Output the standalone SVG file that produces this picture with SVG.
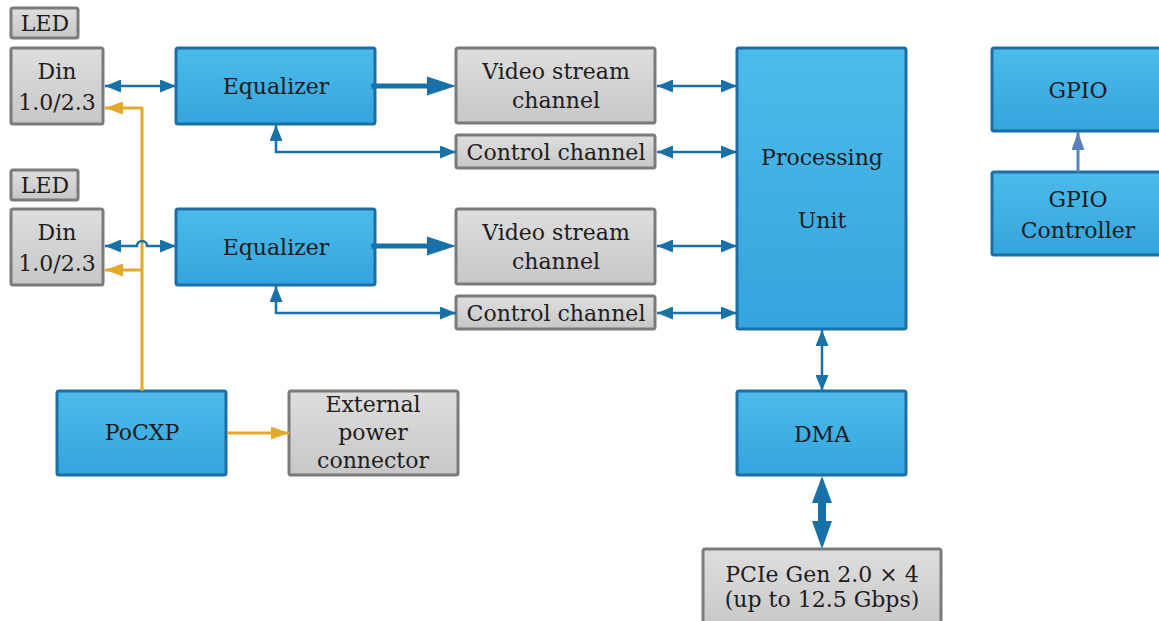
<svg xmlns="http://www.w3.org/2000/svg" width="1159" height="621" viewBox="0 0 1159 621">
<defs>
<linearGradient id="gb" x1="0" y1="0" x2="0" y2="1"><stop offset="0" stop-color="#4dbbea"/><stop offset="1" stop-color="#34a4dd"/></linearGradient>
<linearGradient id="gg" x1="0" y1="0" x2="0" y2="1"><stop offset="0" stop-color="#dedede"/><stop offset="1" stop-color="#c7c7c7"/></linearGradient>
<marker id="ab" markerUnits="userSpaceOnUse" markerWidth="16" markerHeight="13" refX="16" refY="6.5" orient="auto-start-reverse"><path d="M0,0 L16,6.5 L0,13 z" fill="#1872a8"/></marker>
<marker id="ao" markerUnits="userSpaceOnUse" markerWidth="18" markerHeight="13" refX="18" refY="6.5" orient="auto-start-reverse"><path d="M0,0 L18,6.5 L0,13 z" fill="#e3a92a"/></marker>
<marker id="ag" markerUnits="userSpaceOnUse" markerWidth="18" markerHeight="13" refX="18" refY="6.5" orient="auto-start-reverse"><path d="M0,0 L18,6.5 L0,13 z" fill="#5b82b8"/></marker>
</defs>
<style>
.bl{fill:url(#gb);stroke:#1b6fa6;stroke-width:3}
.gr{fill:url(#gg);stroke:#7b7b7b;stroke-width:3}
text{font-family:'DejaVu Serif',serif;fill:#1e1c1d;text-anchor:middle;font-size:22px}
.cb{fill:none;stroke:#1872a8;stroke-width:2.5}
.co{fill:none;stroke:#e3a92a;stroke-width:3}
</style>
<g id="led1"><rect class="gr" x="11" y="8" width="67" height="30" rx="2"/><text x="45" y="31" font-size="20">LED</text></g>
<g id="din1"><rect class="gr" x="11" y="48" width="92" height="76" rx="2"/><text x="57" y="79">Din</text><text x="57" y="110" font-size="21">1.0/2.3</text></g>
<g id="led2"><rect class="gr" x="11" y="170" width="67" height="30" rx="2"/><text x="45" y="193" font-size="20">LED</text></g>
<g id="din2"><rect class="gr" x="11" y="209" width="92" height="76" rx="2"/><text x="57" y="240">Din</text><text x="57" y="271" font-size="21">1.0/2.3</text></g>
<g id="eq1"><rect class="bl" x="176" y="48" width="199" height="76" rx="2"/><text x="276" y="94" font-size="23">Equalizer</text></g>
<g id="eq2"><rect class="bl" x="176" y="209" width="199" height="76" rx="2"/><text x="276" y="255" font-size="23">Equalizer</text></g>
<g id="vid1"><rect class="gr" x="456" y="48" width="199" height="75" rx="2"/><text x="556" y="79">Video stream</text><text x="556" y="108">channel</text></g>
<g id="ctl1"><rect class="gr" x="456" y="135" width="199" height="33" rx="2"/><text x="556" y="160">Control  channel</text></g>
<g id="vid2"><rect class="gr" x="456" y="209" width="199" height="75" rx="2"/><text x="556" y="240">Video stream</text><text x="556" y="269">channel</text></g>
<g id="ctl2"><rect class="gr" x="456" y="296" width="199" height="33" rx="2"/><text x="556" y="321">Control  channel</text></g>
<g id="pu"><rect class="bl" x="737" y="48" width="169" height="281" rx="2"/><text x="822" y="165">Processing</text><text x="822" y="228">Unit</text></g>
<g id="dma"><rect class="bl" x="737" y="391" width="169" height="84" rx="2"/><text x="822" y="442" font-size="24">DMA</text></g>
<g id="pcie"><rect class="gr" x="703" y="549" width="238" height="80" rx="2"/><text x="822" y="582" font-size="19">PCIe Gen 2.0 × 4</text><text x="822" y="607" font-size="19">(up to 12.5 Gbps)</text></g>
<g id="gpio"><rect class="bl" x="992" y="48" width="180" height="83" rx="2"/><text x="1078" y="98" font-size="23">GPIO</text></g>
<g id="gpioc"><rect class="bl" x="992" y="172" width="180" height="83" rx="2"/><text x="1078" y="207" font-size="23">GPIO</text><text x="1078" y="238" font-size="23">Controller</text></g>
<g id="pocxp"><rect class="bl" x="57" y="391" width="169" height="84" rx="2"/><text x="142" y="440" font-size="17">PoCXP</text></g>
<g id="ext"><rect class="gr" x="289" y="391" width="169" height="84" rx="2"/><text x="373" y="412" font-size="20">External</text><text x="373" y="440" font-size="20">power</text><text x="373" y="468" font-size="20">connector</text></g>
<g id="connectors">
<path class="co" d="M142,391 V108 H105" marker-end="url(#ao)"/>
<path class="co" d="M142,270 H105" marker-end="url(#ao)"/>
<path class="co" d="M227,433 H289" marker-end="url(#ao)"/>
<path class="cb" d="M105,86 H176" marker-start="url(#ab)" marker-end="url(#ab)"/>
<path class="cb" d="M105,246 H137 A5,5 0 0 1 147,246 H176" marker-start="url(#ab)" marker-end="url(#ab)"/>
<path class="cb" d="M276,125 V152 H456" marker-start="url(#ab)" marker-end="url(#ab)"/>
<path class="cb" d="M276,286 V313 H456" marker-start="url(#ab)" marker-end="url(#ab)"/>
<path class="cb" d="M657,86 H737" marker-start="url(#ab)" marker-end="url(#ab)"/>
<path class="cb" d="M657,152 H737" marker-start="url(#ab)" marker-end="url(#ab)"/>
<path class="cb" d="M657,246 H737" marker-start="url(#ab)" marker-end="url(#ab)"/>
<path class="cb" d="M657,313 H737" marker-start="url(#ab)" marker-end="url(#ab)"/>
<path class="cb" d="M822,330 V391" marker-start="url(#ab)" marker-end="url(#ab)"/>
<path d="M1078,172 V132" fill="none" stroke="#5b82b8" stroke-width="3" marker-end="url(#ag)"/>
<circle cx="374" cy="86" r="3" fill="#1872a8"/>
<path d="M374,86 H430" stroke="#1872a8" stroke-width="5"/>
<polygon points="427,76.5 456,86 427,95.5" fill="#1872a8"/>
<circle cx="374" cy="246" r="3" fill="#1872a8"/>
<path d="M374,246 H430" stroke="#1872a8" stroke-width="5"/>
<polygon points="427,236.5 456,246 427,255.5" fill="#1872a8"/>
<path d="M822,500 V525" stroke="#1872a8" stroke-width="8"/>
<polygon points="822,476 832,503 812,503" fill="#1872a8"/>
<polygon points="822,549 832,521 812,521" fill="#1872a8"/>
</g>
</svg>
